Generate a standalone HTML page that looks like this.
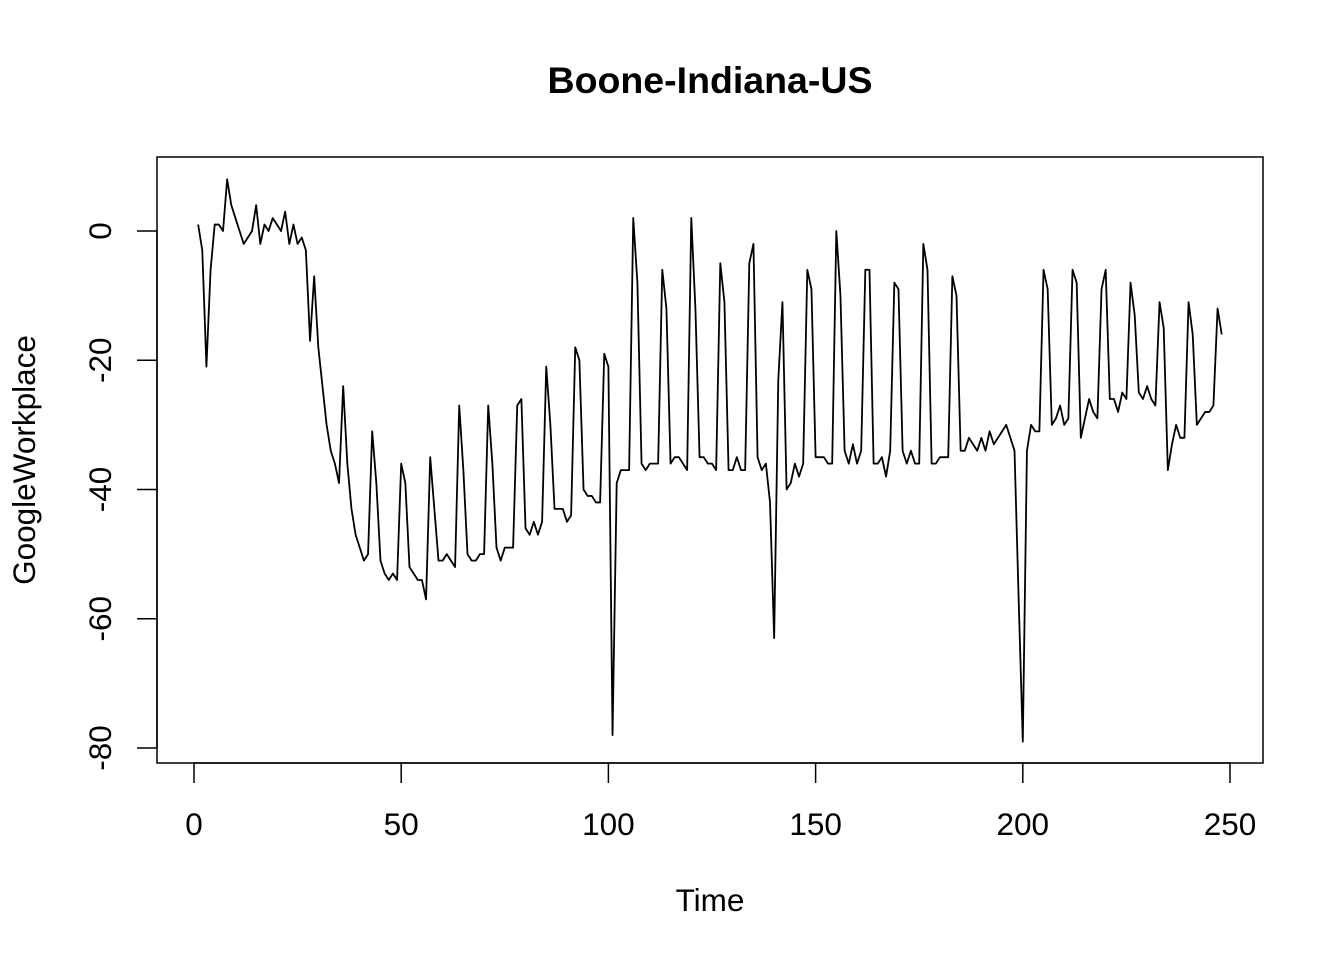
<!DOCTYPE html>
<html><head><meta charset="utf-8"><style>
html,body{margin:0;padding:0;background:#fff;}
svg{display:block;font-family:"Liberation Sans",Arial,sans-serif;}
</style></head><body>
<svg id="chart" width="1344" height="960" viewBox="0 0 1344 960">
<text x="710" y="93" text-anchor="middle" font-size="37.5" font-weight="bold">Boone-Indiana-US</text>
<rect x="157" y="157" width="1106" height="606" fill="none" stroke="#000" stroke-width="1.5"/>
<g id="xaxis"></g>
<g id="yaxis"></g>
<text x="710" y="911" text-anchor="middle" font-size="31.5">Time</text>
<text transform="translate(35,460) rotate(-90)" text-anchor="middle" font-size="31.5">GoogleWorkplace</text>
<path id="series" fill="none" stroke="#000" stroke-width="1.8" stroke-linejoin="round"/>
</svg>
<script>
var xTicks = [0, 50, 100, 150, 200, 250];
var yTicks = [0, -20, -40, -60, -80];
var values = [1,-3,-21,-6,1,1,0,8,4,2,0,-2,-1,0,4,-2,1,0,2,1,0,3,-2,1,-2,-1,-3,-17,-7,-18,
-24,-30,-34,-36,-39,-24,-36,-43,-47,-49,-51,-50,-31,-39,-51,-53,-54,-53,-54,-36,
-39,-52,-53,-54,-54,-57,-35,-43,-51,-51,-50,-51,-52,-27,-37,-50,-51,-51,-50,-50,
-27,-36,-49,-51,-49,-49,-49,-27,-26,-46,-47,-45,-47,-45,-21,-30,-43,-43,-43,-45,
-44,-18,-20,-40,-41,-41,-42,-42,-19,-21,-78,-39,-37,-37,-37,2,-8,-36,-37,-36,
-36,-36,-6,-12,-36,-35,-35,-36,-37,2,-12,-35,-35,-36,-36,-37,-5,-11,-37,-37,
-35,-37,-37,-5,-2,-35,-37,-36,-42,-63,-23,-11,-40,-39,-36,-38,-36,-6,-9,-35,
-35,-35,-36,-36,0,-10,-34,-36,-33,-36,-34,-6,-6,-36,-36,-35,-38,-34,-8,-9,
-34,-36,-34,-36,-36,-2,-6,-36,-36,-35,-35,-35,-7,-10,-34,-34,-32,-33,-34,-32,
-34,-31,-33,-32,-31,-30,-32,-34,-57,-79,-34,-30,-31,-31,-6,-9,-30,-29,-27,-30,
-29,-6,-8,-32,-29,-26,-28,-29,-9,-6,-26,-26,-28,-25,-26,-8,-13,-25,-26,-24,
-26,-27,-11,-15,-37,-33,-30,-32,-32,-11,-16,-30,-29,-28,-28,-27,-12,-16];
var NS="http://www.w3.org/2000/svg";
function sx(t){return 194 + (t-0)*(1230-194)/250;}
function sy(v){return 231 + (0-v)*(748-231)/80;}
var d="";
for(var i=0;i<values.length;i++){d+=(i?"L":"M")+sx(i+1).toFixed(2)+","+sy(values[i]).toFixed(2);}
document.getElementById("series").setAttribute("d",d);
var xa=document.getElementById("xaxis");
var l=document.createElementNS(NS,"line");
l.setAttribute("x1",sx(xTicks[0]));l.setAttribute("x2",sx(xTicks[xTicks.length-1]));
l.setAttribute("y1",763);l.setAttribute("y2",763);l.setAttribute("stroke","#000");l.setAttribute("stroke-width","1.5");


xa.appendChild(l);
xTicks.forEach(function(t){
  var tk=document.createElementNS(NS,"line");
  tk.setAttribute("x1",sx(t));tk.setAttribute("x2",sx(t));tk.setAttribute("y1",763);tk.setAttribute("y2",783);
  tk.setAttribute("stroke","#000");tk.setAttribute("stroke-width","1.5");
  
  
  xa.appendChild(tk);
  var tx=document.createElementNS(NS,"text");
  tx.setAttribute("x",sx(t));tx.setAttribute("y",835);tx.setAttribute("text-anchor","middle");tx.setAttribute("font-size","31.5");
  tx.textContent=t;
  
  
  xa.appendChild(tx);
});
var ya=document.getElementById("yaxis");
var l2=document.createElementNS(NS,"line");
l2.setAttribute("x1",157);l2.setAttribute("x2",157);
l2.setAttribute("y1",sy(yTicks[0]));l2.setAttribute("y2",sy(yTicks[yTicks.length-1]));l2.setAttribute("stroke","#000");l2.setAttribute("stroke-width","1.5");


ya.appendChild(l2);
yTicks.forEach(function(v){
  var tk=document.createElementNS(NS,"line");
  tk.setAttribute("x1",137);tk.setAttribute("x2",157);tk.setAttribute("y1",sy(v));tk.setAttribute("y2",sy(v));
  tk.setAttribute("stroke","#000");tk.setAttribute("stroke-width","1.5");
  
  
  ya.appendChild(tk);
  var tx=document.createElementNS(NS,"text");
  tx.setAttribute("transform","translate(111,"+sy(v)+") rotate(-90)");
  tx.setAttribute("text-anchor","middle");tx.setAttribute("font-size","31.5");
  tx.textContent=v;
  
  
  ya.appendChild(tx);
});
</script>
</body></html>
